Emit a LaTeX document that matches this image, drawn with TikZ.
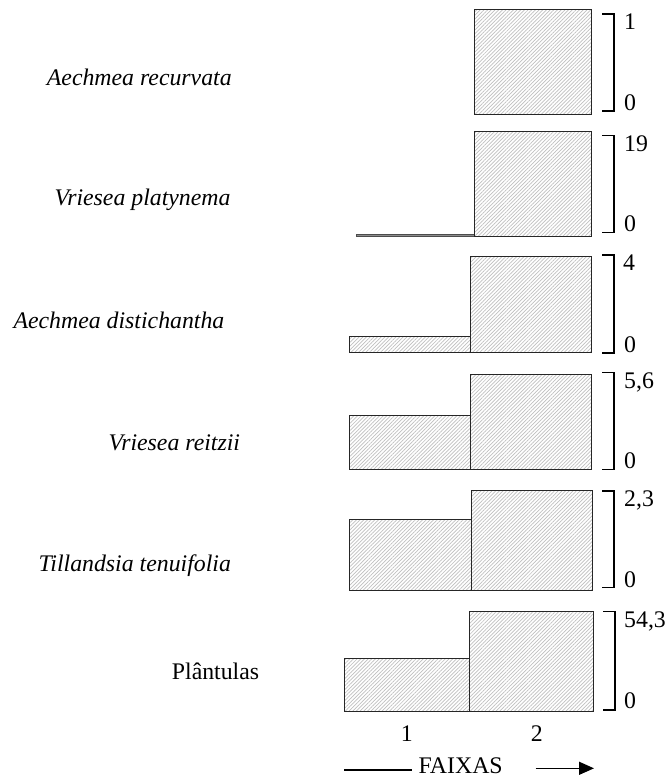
\documentclass[tikz,border=0pt]{standalone}
\usepackage{fontspec}
\setmainfont{Liberation Serif}
\usetikzlibrary{patterns.meta,arrows.meta}
\tikzset{
  hatchbar/.style={draw=black!85, line width=0.8pt, preaction={fill=white}, pattern={Lines[angle=45,distance=2.6pt,line width=0.7pt]}, pattern color=black!25},
  thinbar/.style={draw=black!70, line width=0.6pt, fill=black!45},
  scalebr/.style={line width=1.4pt, black},
  lbl/.style={inner sep=0pt, anchor=base west, font=\fontsize{23.8}{28}\selectfont},
  sp/.style={lbl, font=\fontsize{23.8}{28}\selectfont\itshape},
  axl/.style={inner sep=0pt, anchor=base, font=\fontsize{23.8}{28}\selectfont},
  axline/.style={line width=1.4pt, black}
}
\begin{document}
\begin{tikzpicture}[x=1pt,y=-1pt]
\useasboundingbox (0,0) rectangle (666,777);
% species names
\node[sp] (n1) at (46.7,85) {Aechmea recurvata};
\node[sp] (n2) at (54.3,205.7) {Vriesea platynema};
\node[sp] (n3) at (13.3,328.3) {Aechmea distichantha};
\node[sp] (n4) at (108.3,450) {Vriesea reitzii};
\node[sp] (n5) at (38.3,571.7) {Tillandsia tenuifolia};
\node[lbl] (n6) at (171.7,679.3) {Plântulas};
% panel 1
\draw[hatchbar] (474,9.3) rectangle (591.3,114.3);
\draw[scalebr] (602,14) -- (614,14) -- (614,111) -- (602,111);
\node[lbl] (t1) at (624,29.5) {1};
\node[lbl] (z1) at (624,110.5) {0};
% panel 2
\draw[thinbar] (356,234.6) rectangle (474,236.7);
\draw[hatchbar] (474,131.7) rectangle (591.3,236.7);
\draw[scalebr] (602,135.7) -- (614,135.7) -- (614,232.3) -- (602,232.3);
\node[lbl] (t2) at (624,151.5) {19};
\node[lbl] (z2) at (624,231.8) {0};
% panel 3
\draw[hatchbar] (349.3,336.7) rectangle (470.7,352.7);
\draw[hatchbar] (470.7,256.7) rectangle (591,352.7);
\draw[scalebr] (602,255) -- (614,255) -- (614,353) -- (602,353);
\node[lbl] (t3) at (623,270.5) {4};
\node[lbl] (z3) at (624,352.3) {0};
% panel 4
\draw[hatchbar] (349.3,415) rectangle (470.3,469.3);
\draw[hatchbar] (470.3,374.3) rectangle (591,469.3);
\draw[scalebr] (602,372.7) -- (614,372.7) -- (614,469.3) -- (602,469.3);
\node[lbl] (t4) at (624,388.5) {5,6};
\node[lbl] (z4) at (624,468.8) {0};
% panel 5
\draw[hatchbar] (349.3,519.3) rectangle (471,590.7);
\draw[hatchbar] (471,490.7) rectangle (592.3,590.7);
\draw[scalebr] (602,491) -- (614,491) -- (614,587.7) -- (602,587.7);
\node[lbl] (t5) at (624,506.5) {2,3};
\node[lbl] (z5) at (624,587.2) {0};
% panel 6
\draw[hatchbar] (344.3,658.7) rectangle (469,711);
\draw[hatchbar] (469,611.7) rectangle (593.3,711);
\draw[scalebr] (603,611.7) -- (615,611.7) -- (615,710) -- (603,710);
\node[lbl] (t6) at (624,627.5) {54,3};
\node[lbl] (z6) at (624,708.5) {0};
% axis
\node[axl] (f1) at (406.7,741.7) {1};
\node[axl] (f2) at (536.7,741.7) {2};
\node[lbl] (fx) at (418.3,773.3) {FAIXAS};
\coordinate (la) at (344.3,770);
\coordinate (ra) at (535.7,768.3);
\coordinate (rb) at (594,768.3);
\draw[axline] (la) -- ([xshift=-6.5pt]fx.base west |- la);
\draw[axline, -{Triangle[length=15pt,width=13pt]}] (ra) -- (rb);
\end{tikzpicture}
\end{document}
